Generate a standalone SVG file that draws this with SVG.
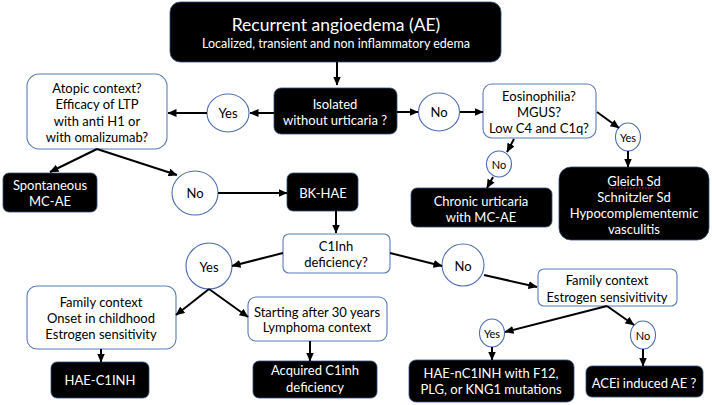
<svg xmlns="http://www.w3.org/2000/svg" width="712" height="405" viewBox="0 0 712 405">
<defs>
<marker id="ah" markerUnits="userSpaceOnUse" markerWidth="9" markerHeight="8" viewBox="0 0 9 8" refX="8.5" refY="4" orient="auto">
<path d="M0,0 L9,4 L0,8 z" fill="#000"/>
</marker>
<style>
.blk{fill:#000;stroke:#2f4f7f;stroke-width:0.8}
.wht{fill:#fff;stroke:#5a7cb8;stroke-width:1.1}
.circ{fill:#fff;stroke:#4a6cb0;stroke-width:1.1}
text{font-family:"Lato","Open Sans","Liberation Sans",sans-serif;font-size:13px;text-anchor:middle;dominant-baseline:central}
.tw{fill:#fff}
.tb{fill:#000}
.sm{font-size:11px}
.conn line{stroke:#000;stroke-width:2;marker-end:url(#ah)}
</style>
</defs>
<rect width="712" height="405" fill="#fff"/>

<g id="n-top">
<rect class="blk" x="170" y="2" width="331" height="60" rx="10"/>
<text class="tw" x="336" y="24" style="font-size:17.5px">Recurrent angioedema (AE)</text>
<text class="tw" x="336" y="43" style="font-size:12.5px">Localized,  transient and non inflammatory edema</text>
</g>
<g id="n-isolated">
<rect class="blk" x="274" y="88" width="123" height="46" rx="7"/>
<text class="tw" x="335" y="104">Isolated</text>
<text class="tw" x="335" y="120">without urticaria ?</text>
</g>
<g id="n-yes1">
<ellipse class="circ" cx="228" cy="113" rx="21" ry="19"/>
<text class="tb" x="228" y="113">Yes</text>
</g>
<g id="n-atopic">
<rect class="wht" x="27" y="74" width="140" height="75" rx="12"/>
<text class="tb" x="97" y="88">Atopic context?</text>
<text class="tb" x="97" y="104">Efficacy of LTP</text>
<text class="tb" x="97" y="121">with anti H1 or</text>
<text class="tb" x="97" y="137">with omalizumab?</text>
</g>
<g id="n-no1">
<ellipse class="circ" cx="439" cy="112" rx="20.5" ry="19"/>
<text class="tb" x="439" y="112">No</text>
</g>
<g id="n-eos">
<rect class="wht" x="483" y="84" width="113" height="54" rx="9"/>
<text class="tb" x="539" y="96">Eosinophilia?</text>
<text class="tb" x="539" y="112">MGUS?</text>
<text class="tb" x="539" y="128">Low C4 and C1q?</text>
</g>
<g id="n-spont">
<rect class="blk" x="3" y="173" width="94" height="39" rx="6"/>
<text class="tw" x="50" y="185">Spontaneous</text>
<text class="tw" x="50" y="201">MC-AE</text>
</g>
<g id="n-no2">
<ellipse class="circ" cx="195" cy="193" rx="23" ry="22"/>
<text class="tb" x="195" y="193">No</text>
</g>
<g id="n-bkhae">
<rect class="blk" x="287" y="173" width="71" height="38" rx="6"/>
<text class="tw" x="323" y="193">BK-HAE</text>
</g>
<g id="n-no3">
<ellipse class="circ" cx="499" cy="164" rx="12.5" ry="13"/>
<text class="tb sm" x="499" y="164">No</text>
</g>
<g id="n-yes2">
<ellipse class="circ" cx="628" cy="137" rx="12.5" ry="14"/>
<text class="tb sm" x="628" y="137">Yes</text>
</g>
<g id="n-chronic">
<rect class="blk" x="411" y="188" width="141" height="39" rx="6"/>
<text class="tw" x="481" y="201">Chronic urticaria</text>
<text class="tw" x="481" y="217">with MC-AE</text>
</g>
<g id="n-gleich">
<rect class="blk" x="559" y="167" width="150" height="73" rx="12"/>
<text class="tw" x="634" y="181">Gleich Sd</text>
<line x1="609" y1="188" x2="659" y2="188" stroke="#d23" stroke-width="1" stroke-dasharray="1.5,1.5"/>
<text class="tw" x="634" y="197">Schnitzler Sd</text>
<text class="tw" x="634" y="213">Hypocomplementemic</text>
<text class="tw" x="634" y="229">vasculitis</text>
</g>
<g id="n-c1inh">
<rect class="wht" x="283" y="234" width="107" height="39" rx="6"/>
<text class="tb" x="336" y="246">C1Inh</text>
<text class="tb" x="336" y="262">deficiency?</text>
</g>
<g id="n-yes3">
<ellipse class="circ" cx="209" cy="266" rx="23" ry="23"/>
<text class="tb" x="209" y="267">Yes</text>
</g>
<g id="n-no4">
<ellipse class="circ" cx="463" cy="265" rx="21" ry="21"/>
<text class="tb" x="463" y="266">No</text>
</g>
<g id="n-familyL">
<rect class="wht" x="27" y="286" width="149" height="63" rx="10"/>
<text class="tb" x="101" y="302">Family context</text>
<text class="tb" x="101" y="318">Onset in childhood</text>
<text class="tb" x="101" y="334">Estrogen sensitivity</text>
</g>
<g id="n-starting">
<rect class="wht" x="248" y="297" width="139" height="44" rx="8"/>
<text class="tb" x="317" y="312">Starting after 30 years</text>
<text class="tb" x="317" y="327">Lymphoma context</text>
</g>
<g id="n-familyR">
<rect class="wht" x="538" y="269" width="139" height="37" rx="6"/>
<text class="tb" x="607" y="280">Family context</text>
<text class="tb" x="607" y="297">Estrogen sensivitivity</text>
</g>
<g id="n-yes4">
<ellipse class="circ" cx="492" cy="333" rx="12.5" ry="14"/>
<text class="tb sm" x="492" y="333">Yes</text>
</g>
<g id="n-no5">
<ellipse class="circ" cx="643" cy="335" rx="12.5" ry="14"/>
<text class="tb sm" x="643" y="335">No</text>
</g>
<g id="n-haec1inh">
<rect class="blk" x="51" y="362" width="98" height="36" rx="6"/>
<text class="tw" x="100" y="380">HAE-C1INH</text>
</g>
<g id="n-acquired">
<rect class="blk" x="253" y="361" width="124" height="37" rx="6"/>
<text class="tw" x="315" y="370">Acquired C1inh</text>
<text class="tw" x="315" y="387">deficiency</text>
</g>
<g id="n-haenc1inh">
<rect class="blk" x="409" y="360" width="165" height="42" rx="7"/>
<text class="tw" x="491" y="373">HAE-nC1INH with F12,</text>
<text class="tw" x="491" y="389">PLG, or KNG1 mutations</text>
</g>
<g id="n-acei">
<rect class="blk" x="586" y="366" width="117" height="31" rx="6"/>
<text class="tw" x="644" y="383">ACEi induced AE ?</text>
</g>

<g id="connectors" class="conn">
<line x1="337" y1="62" x2="337" y2="85"/>
<line x1="274" y1="113" x2="250" y2="113"/>
<line x1="207" y1="113" x2="168" y2="113"/>
<line x1="397" y1="112" x2="418" y2="112"/>
<line x1="460" y1="112" x2="483" y2="112"/>
<line x1="97" y1="149" x2="50" y2="172"/>
<line x1="97" y1="149" x2="177" y2="175"/>
<line x1="218" y1="193" x2="287" y2="193"/>
<line x1="336" y1="211" x2="336" y2="233"/>
<line x1="283" y1="253" x2="232" y2="266"/>
<line x1="390" y1="253" x2="442" y2="266"/>
<line x1="209" y1="289" x2="176" y2="315"/>
<line x1="209" y1="289" x2="248" y2="317"/>
<line x1="101" y1="349" x2="101" y2="362"/>
<line x1="310" y1="341" x2="310" y2="361"/>
<line x1="484" y1="275" x2="537" y2="287"/>
<line x1="607" y1="306" x2="505" y2="332"/>
<line x1="607" y1="306" x2="634" y2="325"/>
<line x1="492" y1="347" x2="492" y2="360"/>
<line x1="643" y1="349" x2="643" y2="366"/>
<line x1="514" y1="139" x2="507" y2="152"/>
<line x1="493" y1="177" x2="487" y2="188"/>
<line x1="597" y1="112" x2="619" y2="128"/>
<line x1="628" y1="151" x2="628" y2="167"/>
</g>
</svg>
